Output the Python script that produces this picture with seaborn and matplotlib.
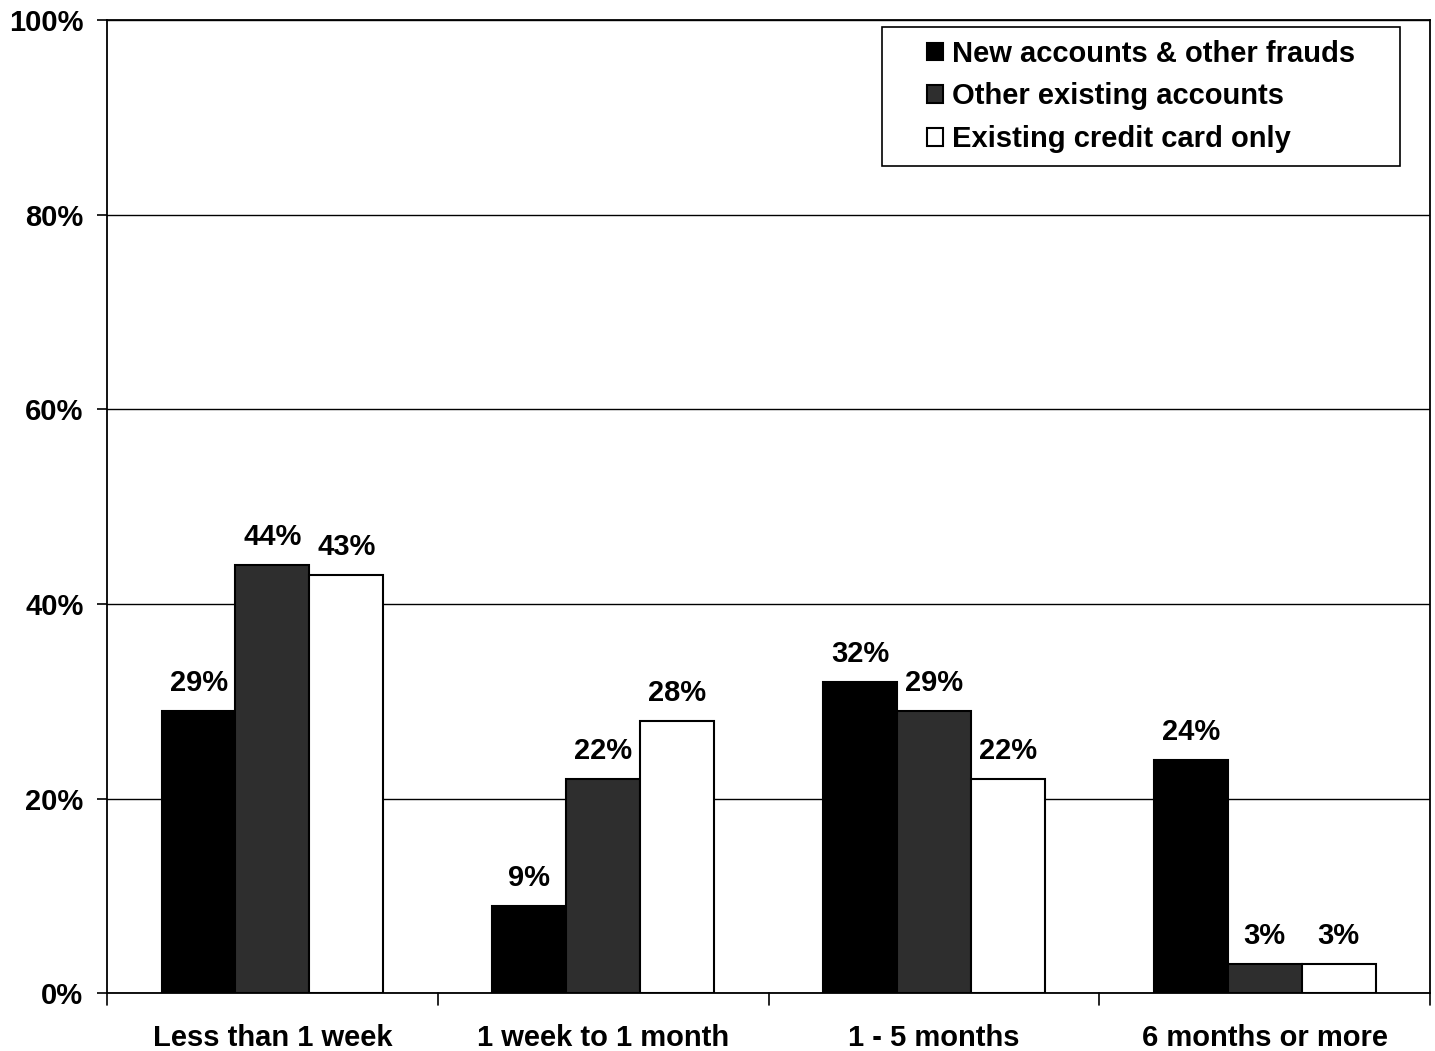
import matplotlib
matplotlib.use("Agg")
import matplotlib.pyplot as plt
from matplotlib.path import Path
import seaborn as sns
import pandas as pd

categories = ["Less than 1 week", "1 week to 1 month", "1 - 5 months", "6 months or more"]
series = ["New accounts & other frauds", "Other existing accounts", "Existing credit card only"]
new_accounts = [29, 9, 32, 24]
other_existing = [44, 22, 29, 3]
credit_card_only = [43, 28, 22, 3]
y_ticks = [0, 20, 40, 60, 80, 100]

colors = ["#000000", "#2e2e2e", "#ffffff"]

df = pd.DataFrame({
    "period": categories * 3,
    "series": [s for s in series for _ in categories],
    "value": new_accounts + other_existing + credit_card_only,
})

sns.set_theme(style="white")
plt.rcParams["font.family"] = ["Liberation Sans", "DejaVu Sans"]
plt.rcParams["font.weight"] = "bold"
plt.rcParams["text.color"] = "black"
plt.rcParams["xtick.color"] = "black"
plt.rcParams["ytick.color"] = "black"
plt.rcParams["xtick.labelcolor"] = "black"
plt.rcParams["ytick.labelcolor"] = "black"

fig = plt.figure(figsize=(14.35, 10.51), dpi=100)
ax = fig.add_axes([0.0746, 0.055, 0.922, 0.926])

sns.barplot(data=df, x="period", y="value", hue="series", order=categories,
            hue_order=series, palette=colors, width=0.67, gap=0,
            edgecolor="black", linewidth=1.5, saturation=1, ax=ax, zorder=3)

ax.set_ylim(0, 100)
ax.set_xlim(-0.5, 3.5)
ax.set_yticks(y_ticks)
ax.set_yticklabels([f"{t}%" for t in y_ticks], fontsize=21, fontweight="bold", color="black")
ax.set_xticks(range(len(categories)))
ax.set_xticklabels(categories, fontsize=21, fontweight="bold", color="black")
ax.tick_params(axis="x", length=0, pad=22)
ax.tick_params(axis="y", length=7, width=1.2, color="black", direction="out", left=True, pad=10)
ax.set_xlabel("")
ax.set_ylabel("")

# category separators on the x axis
for b in [-0.5, 0.5, 1.5, 2.5, 3.5]:
    ax.plot([b, b], [0, -1.2], color="black", lw=1.2, clip_on=False)

ax.yaxis.grid(True, color="black", linewidth=1.0, zorder=0)
ax.set_axisbelow(True)
for sp in ax.spines.values():
    sp.set_color("black")
    sp.set_linewidth(1.3)

for cont in ax.containers:
    ax.bar_label(cont, labels=[f"{v:.0f}%" for v in cont.datavalues],
                 padding=10, fontsize=21, fontweight="bold", color="black")


def wide_square(x0, y0, width, height, mutation_size):
    """Square legend frame with extra horizontal room."""
    extra = 1.1 * mutation_size
    x0 -= extra
    x1 = x0 + width + 2 * extra
    y1 = y0 + height
    return Path([(x0, y0), (x1, y0), (x1, y1), (x0, y1), (x0, y0)], closed=True)


leg = ax.legend(loc="upper right", bbox_to_anchor=(0.953, 0.993), fontsize=21,
                frameon=True, fancybox=False, edgecolor="black", framealpha=1,
                handlelength=0.55, handleheight=0.55, handletextpad=0.3,
                labelspacing=0.5, borderpad=0.45, borderaxespad=0)
frame = leg.get_frame()
frame.set_boxstyle(wide_square)
frame.set_linewidth(1.2)
for t in leg.get_texts():
    t.set_fontweight("bold")
    t.set_color("black")

fig.savefig("out.png", dpi=100, facecolor="white")
